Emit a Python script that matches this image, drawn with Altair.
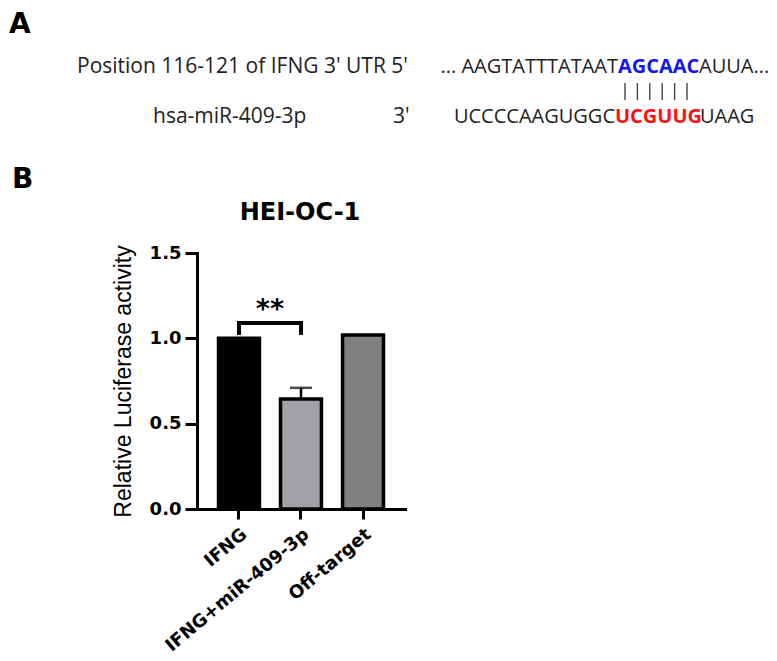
import altair as alt
import pandas as pd

# ---- data ----
groups = ["IFNG", "IFNG+miR-409-3p", "Off-target"]
means = [1.0, 0.645, 1.02]
errors = [0.0, 0.065, 0.0]
fills = ["#000000", "#a2a2a6", "#808080"]

bracket_pair = ["IFNG", "IFNG+miR-409-3p"]
bracket_low = 1.02
bracket_high = 1.09
sig_label = "**"
sig_value = 1.165

df = pd.DataFrame({"group": groups, "mean": means, "err": errors})
df["upper"] = df["mean"] + df["err"]
err_df = df[df["err"] > 0]

br_h = pd.DataFrame({"g1": [bracket_pair[0]], "g2": [bracket_pair[1]], "y": [bracket_high]})
br_v = pd.DataFrame({"group": bracket_pair, "lo": [bracket_low] * 2, "hi": [bracket_high] * 2})
sig_df = pd.DataFrame({"group": [bracket_pair[0]], "y": [sig_value], "t": [sig_label]})

X = alt.X("group:N", sort=groups, title=None,
          scale=alt.Scale(paddingInner=0.34, paddingOuter=0.347),
          axis=alt.Axis(labelAngle=-40, labelFont="DejaVu Sans", labelFontWeight="bold",
                        labelFontSize=18, labelColor="black", labelPadding=6, labelLimit=400,
                        tickSize=10, tickWidth=3, tickColor="black",
                        domainWidth=3, domainColor="black", domainCap="square"))
Y = alt.Y("mean:Q", title="Relative Luciferase activity",
          scale=alt.Scale(domain=[0, 1.5], nice=False),
          axis=alt.Axis(values=[0, 0.5, 1.0, 1.5], format=".1f", grid=False,
                        labelFont="DejaVu Sans", labelFontWeight="bold", labelFontSize=18,
                        labelColor="black", labelPadding=4,
                        tickSize=12, tickWidth=3, tickColor="black",
                        domainWidth=3, domainColor="black", domainCap="square",
                        titleFont="Liberation Sans", titleFontSize=23, titleFontWeight="normal",
                        titleColor="black", titlePadding=14))

bars = alt.Chart(df).mark_bar(stroke="black", strokeWidth=3.5).encode(
    x=X, y=Y,
    color=alt.Color("group:N", scale=alt.Scale(domain=groups, range=fills), legend=None),
)

err_rule = alt.Chart(err_df).mark_rule(color="black", strokeWidth=2.5).encode(
    x=alt.X("group:N", sort=groups), y="mean:Q", y2="upper:Q")
err_cap = alt.Chart(err_df).mark_tick(color="black", thickness=2.5, size=22).encode(
    x=alt.X("group:N", sort=groups), y="upper:Q")

br1 = alt.Chart(br_h).mark_rule(color="black", strokeWidth=4, strokeCap="square").encode(
    x=alt.X("g1:N", sort=groups), x2="g2:N", y="y:Q")
br2 = alt.Chart(br_v).mark_rule(color="black", strokeWidth=4).encode(
    x=alt.X("group:N", sort=groups), y="lo:Q", y2="hi:Q")
sig = alt.Chart(sig_df).mark_text(font="DejaVu Sans", fontWeight="bold", fontSize=27,
                                  dx=31, baseline="middle", color="black").encode(
    x=alt.X("group:N", sort=groups), y="y:Q", text="t:N")

# ---- annotations (pixel offsets relative to plot origin) ----
anno_src = pd.DataFrame({"k": [0]})

def txt(s, x, y, size, color="#222222", weight="normal", font="Open Sans", align="left"):
    return alt.Chart(anno_src).mark_text(
        text=s, font=font, fontSize=size, fontWeight=weight, color=color,
        align=align, baseline="alphabetic").encode(x=alt.value(x), y=alt.value(y))

layers = [
    txt("HEI-OC-1", 103, -33, 24, color="black", weight="bold", font="DejaVu Sans", align="center"),
    txt("A", -188, -220, 28, color="black", weight="bold", font="DejaVu Sans"),
    txt("B", -185, -65, 28, color="black", weight="bold", font="DejaVu Sans"),
    txt("Position 116-121 of IFNG 3' UTR 5'", -120, -180, 21),
    txt("hsa-miR-409-3p", -44, -130, 21),
    txt("3'", 196, -130, 21),
    txt("... AAGTATTTATAAT", 421, -180, 20, align="right"),
    txt("AGCAAC", 421, -180, 20, color="#1515f0", weight="bold"),
    txt("AUUA...", 502, -180, 20),
    txt("UCCCCAAGUGGC", 418, -130, 20, align="right"),
    txt("UCGUUG", 418, -130, 20, color="#ff1010", weight="bold"),
    txt("UAAG", 503, -130, 20),
]
for i in range(6):
    xp = 428 + i * 12.4
    layers.append(alt.Chart(anno_src).mark_rule(color="#444444", strokeWidth=1.4).encode(
        x=alt.value(xp), y=alt.value(-170), y2=alt.value(-153)))

chart = alt.layer(bars, err_rule, err_cap, br1, br2, sig, *layers).properties(
    width=208, height=256,
    autosize=alt.AutoSizeParams(type="none"),
    padding={"left": 189, "top": 245, "right": 363, "bottom": 150},
    background="white",
).configure_view(stroke=None)

chart.save("out.html", embed_options={"renderer": "svg", "actions": False})
